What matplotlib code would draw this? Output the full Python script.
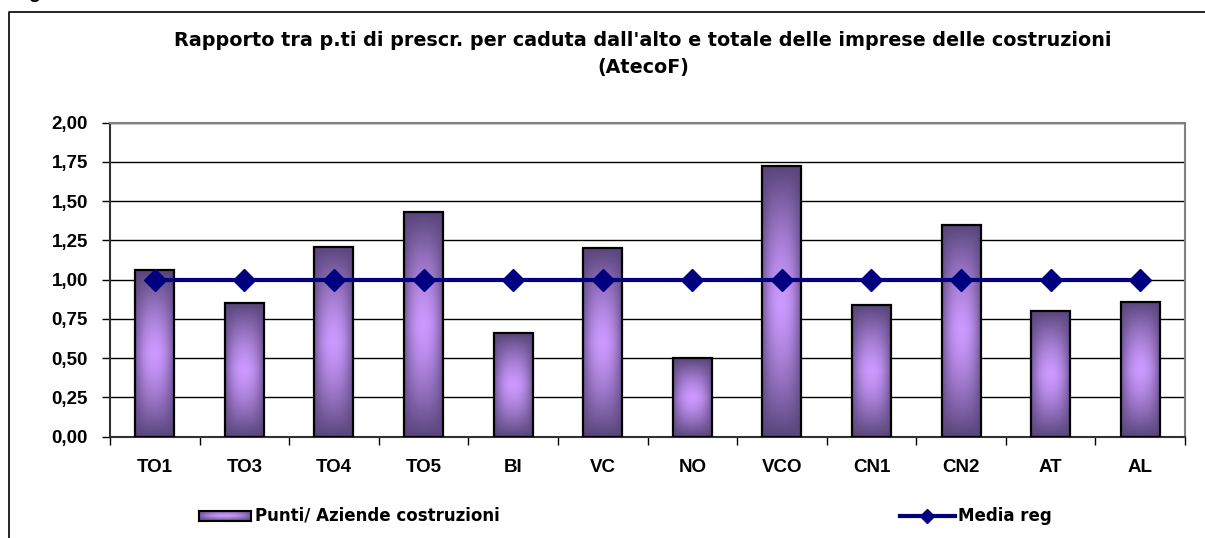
import numpy as np
import matplotlib
matplotlib.use("Agg")
import matplotlib.pyplot as plt
from matplotlib.lines import Line2D
from matplotlib.colors import to_rgb

plt.rcParams['font.family'] = ['Liberation Sans', 'DejaVu Sans']

categories = ["TO1", "TO3", "TO4", "TO5", "BI", "VC", "NO", "VCO", "CN1", "CN2", "AT", "AL"]
punti_aziende = [1.06, 0.85, 1.21, 1.43, 0.66, 1.20, 0.50, 1.72, 0.84, 1.35, 0.80, 0.86]
media_reg = [1.00] * 12
yticks = [0.0, 0.25, 0.5, 0.75, 1.0, 1.25, 1.5, 1.75, 2.0]
ytick_labels = ["0,00", "0,25", "0,50", "0,75", "1,00", "1,25", "1,50", "1,75", "2,00"]
title_line1 = "Rapporto tra p.ti di prescr. per caduta dall'alto e totale delle imprese delle costruzioni"
title_line2 = "(AtecoF)"
legend_bar = "Punti/ Aziende costruzioni"
legend_line = "Media reg"

W, H = 1205, 538
fig = plt.figure(figsize=(W / 100, H / 100), dpi=100)
fig.patch.set_facecolor("white")

def fx(px):
    return px / W

def fy(py):
    return 1 - py / H

ax = fig.add_axes([fx(110), fy(436.7), fx(1185) - fx(110), fy(122.5) - fy(436.7)])

dark = np.array(to_rgb("#58457a"))
light = np.array(to_rgb("#cc99ff"))

def gradient_img(nx=60, ny=200):
    xs = np.linspace(-1, 1, nx)
    ys = np.linspace(-1, 1, ny)
    X, Y = np.meshgrid(xs, ys)
    tv = np.abs(Y) ** 1.4
    th = 0.75 * np.abs(X) ** 2.2
    d = 1 - (1 - tv) * (1 - th)
    img = light[None, None, :] * (1 - d[..., None]) + dark[None, None, :] * d[..., None]
    return img

x = np.arange(len(categories))
bars = ax.bar(x, punti_aziende, width=0.435, facecolor="none", edgecolor="black",
              linewidth=1.6, zorder=3)
img = gradient_img()
for b in bars:
    x0, y0 = b.get_x(), b.get_y()
    w, h = b.get_width(), b.get_height()
    im = ax.imshow(img, extent=[x0, x0 + w, y0, y0 + h], aspect="auto", zorder=2,
                   interpolation="bilinear")
    im.set_clip_path(b)

ax.plot(x, media_reg, color="#000080", linewidth=3, marker="D", markersize=11,
        zorder=4)

ax.set_xlim(-0.5, len(categories) - 0.5)
ax.set_ylim(0, 2.0)
ax.set_yticks(yticks)
ax.set_yticklabels(ytick_labels, fontsize=13.5, fontweight="bold")
ax.yaxis.grid(True, color="black", linewidth=1.0)
ax.set_axisbelow(True)
ax.set_xticks(x)
ax.set_xticklabels(categories, fontsize=13.5, fontweight="bold")
ax.tick_params(axis="x", length=0, pad=16)
ax.set_xticks(np.arange(len(categories) + 1) - 0.5, minor=True)
ax.tick_params(axis="x", which="minor", length=6, width=1, direction="out", color="black")
ax.tick_params(axis="y", length=6, width=1, direction="out", pad=10)
for side in ["top", "right"]:
    ax.spines[side].set_color("#808080")
    ax.spines[side].set_linewidth(1.5)
for side in ["left", "bottom"]:
    ax.spines[side].set_color("#303030")
    ax.spines[side].set_linewidth(1.5)

fig.text(fx(643), fy(40), title_line1, ha="center", va="center", fontsize=13.8,
         fontweight="bold", family=["DejaVu Sans"])
fig.text(fx(643), fy(68), title_line2, ha="center", va="center", fontsize=13.8,
         fontweight="bold", family=["DejaVu Sans"])

# outer frame
fig.add_artist(Line2D([fx(9), fx(9), 1.0], [0.0, fy(12), fy(12)], color="black",
                      linewidth=1.2))
fig.text(fx(28), fy(-1.5), "g", fontsize=14, fontweight="bold", va="baseline")

# legend: bars
lax = fig.add_axes([fx(199), fy(521), fx(251) - fx(199), fy(510.5) - fy(521)])
lax.imshow(gradient_img(nx=100, ny=30), aspect="auto", extent=[0, 1, 0, 1],
           interpolation="bilinear")
lax.set_xticks([]); lax.set_yticks([])
for s in lax.spines.values():
    s.set_linewidth(1.5)
fig.text(fx(255), fy(516), legend_bar, fontsize=12, fontweight="bold",
         va="center", ha="left", family=["DejaVu Sans"])

# legend: line
fig.add_artist(Line2D([fx(900), fx(955)], [fy(516), fy(516)], color="#000080",
                      linewidth=3))
fig.add_artist(Line2D([fx(927)], [fy(516)], color="#000080", marker="D", markersize=7))
fig.text(fx(958), fy(516), legend_line, fontsize=12, fontweight="bold", va="center",
         ha="left", family=["DejaVu Sans"])

fig.savefig("out.png", dpi=100)
